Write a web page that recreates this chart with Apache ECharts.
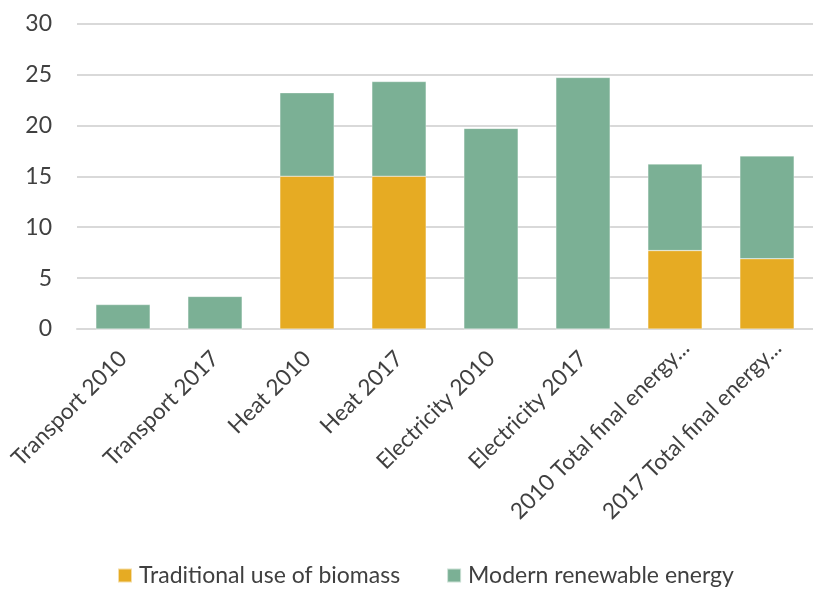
<!DOCTYPE html>
<html>
<head>
<meta charset="utf-8">
<script src="https://cdn.jsdelivr.net/npm/echarts@6/dist/echarts.min.js"></script>
<style>
  html, body { margin: 0; padding: 0; background: #fff; }
  #chart { width: 813px; height: 590px; }
</style>
</head>
<body>
<div id="chart"></div>
<script>
// Renewable share by end use (%), stacked by source
const categories = [
  'Transport 2010', 'Transport 2017', 'Heat 2010', 'Heat 2017',
  'Electricity 2010', 'Electricity 2017',
  '2010 Total final energy...', '2017 Total final energy...'
];
const traditionalBiomass = [0, 0, 15.0, 15.0, 0, 0, 7.7, 6.9];
const modernRenewable = [2.4, 3.2, 8.2, 9.3, 19.7, 24.7, 8.5, 10.1];
const yTicks = { min: 0, max: 30, interval: 5 };

const textColor = '#404040';
const fontFamily = 'Lato, "Noto Sans", sans-serif';

// the truncated category names sit a little further to the right
const axisData = categories.map(function (name) {
  if (name.endsWith('...')) {
    return { value: name, textStyle: { padding: [30, -15, 0, 0] } };
  }
  return name;
});

const chart = echarts.init(document.getElementById('chart'), null, { renderer: 'canvas' });
chart.setOption({
  animation: false,
  grid: { left: 77, right: 0, top: 23.5, bottom: 261 },
  legend: {
    bottom: 3,
    left: 117,
    padding: 0,
    itemWidth: 14,
    itemHeight: 14,
    itemGap: 46,
    icon: 'rect',
    textStyle: { color: textColor, fontSize: 23, fontFamily: fontFamily, padding: [0, 0, 0, 2] },
    data: ['Traditional use of biomass', 'Modern renewable energy']
  },
  xAxis: {
    type: 'category',
    data: axisData,
    axisLine: { lineStyle: { color: '#d9d9d9', width: 2 } },
    axisTick: { show: false },
    axisLabel: {
      rotate: 45,
      interval: 0,
      margin: 26,
      color: textColor,
      fontSize: 22.5,
      fontFamily: fontFamily
    }
  },
  yAxis: {
    type: 'value',
    min: yTicks.min,
    max: yTicks.max,
    interval: yTicks.interval,
    axisLine: { show: false },
    axisTick: { show: false },
    splitLine: { lineStyle: { color: '#d9d9d9', width: 2 } },
    axisLabel: { color: textColor, fontSize: 23, fontFamily: fontFamily, margin: 25 }
  },
  series: [
    {
      name: 'Traditional use of biomass',
      type: 'bar',
      stack: 'total',
      barWidth: '59%',
      data: traditionalBiomass,
      itemStyle: { color: '#e6ab23', borderColor: 'rgba(255,255,255,0.6)', borderWidth: 0.5 }
    },
    {
      name: 'Modern renewable energy',
      type: 'bar',
      stack: 'total',
      barWidth: '59%',
      data: modernRenewable,
      itemStyle: { color: '#7bb095', borderColor: 'rgba(255,255,255,0.6)', borderWidth: 0.5 }
    }
  ]
});
</script>
</body>
</html>
